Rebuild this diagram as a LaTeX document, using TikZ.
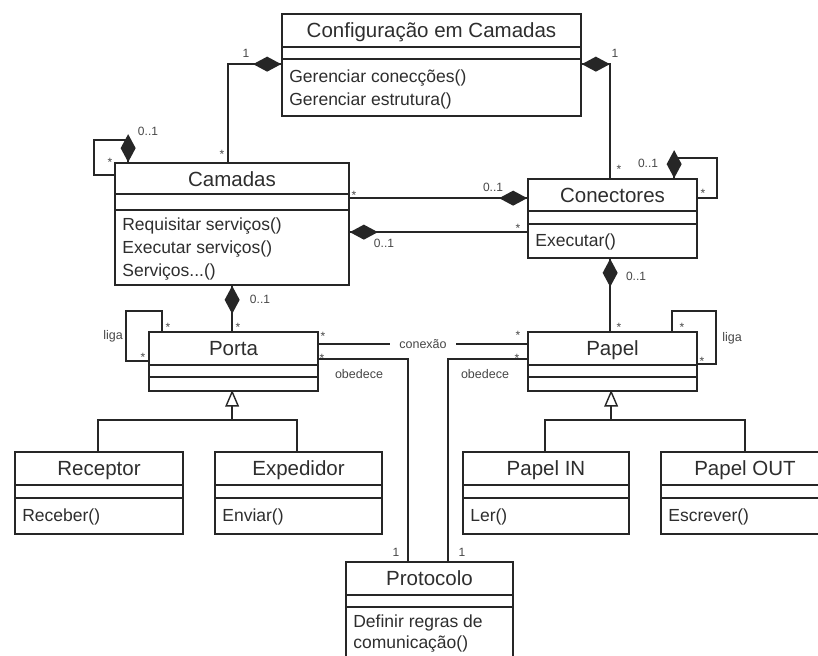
\documentclass[tikz,border=0pt]{standalone}
\usepackage{fontspec}
\setmainfont{Liberation Sans}
\usetikzlibrary{calc}
\definecolor{lc}{HTML}{262626}
\definecolor{tc}{HTML}{2E2E2E}
\definecolor{labc}{HTML}{474747}
\tikzset{
  cls/.style={draw=lc, line width=1.7pt, inner sep=0pt, rectangle},
  sepline/.style={draw=lc, line width=1.7pt},
  ctitle/.style={anchor=base, inner sep=0pt, text=tc, font=\fontsize{20.5}{24}\selectfont},
  meth/.style={anchor=base west, inner sep=0pt, text=tc, font=\fontsize{17.5}{21}\selectfont},
  conn/.style={draw=lc, line width=1.5pt},
  mult/.style={inner sep=0pt, text=labc, font=\fontsize{12}{14}\selectfont},
  star/.style={inner sep=0pt, text=labc, font=\fontsize{12}{14}\selectfont, yshift=-2.5pt},
  role/.style={inner sep=1pt, text=labc, font=\fontsize{12.5}{14}\selectfont},
}
\newcommand\umlclass[8]{%
  \node[cls, minimum width={(#4-#2)*1pt}, minimum height={(#5-#3)*1pt}] (#1) at ({(#2+#4)/2},{(#3+#5)/2}) {};
  \draw[sepline] ($(#1.north west)+(0,#7)$) -- ($(#1.north east)+(0,#7)$);
  \draw[sepline] ($(#1.north west)+(0,#8)$) -- ($(#1.north east)+(0,#8)$);
  \node[ctitle] (#1-t) at ($(#1.north)+(0,24)$) {#6};
}
\newcommand\diamH[2]{\fill[lc] (#1) -- ++({(#2)*14},-7.5) -- ++({(#2)*14},7.5) -- ++({0-(#2)*14},7.5) -- cycle;}
\newcommand\diamV[2]{\fill[lc] (#1) -- ++(-7.5,{(#2)*14}) -- ++(7.5,{(#2)*14}) -- ++(7.5,{0-(#2)*14}) -- cycle;}
\newcommand\gentri[1]{\filldraw[draw=lc, fill=white, line width=1.4pt, line join=miter] (#1) -- ++(-6,14) -- ++(12,0) -- cycle;}
\begin{document}
\begin{tikzpicture}[x=1pt, y=-1pt]
\useasboundingbox (0,0) rectangle (818,655);
\clip (0,0) rectangle (818,655);
\fill[white] (0,0) rectangle (818,655);

% classes
\umlclass{conf}{282}{14}{581}{116}{Configuração em Camadas}{34}{46}
\node[meth] (conf-m1) at ($(conf.north west)+(8,69)$) {Gerenciar conecções()};
\node[meth] (conf-m2) at ($(conf.north west)+(8,92)$) {Gerenciar estrutura()};

\umlclass{cam}{115}{163}{349}{285}{Camadas}{32}{48}
\node[meth] (cam-m1) at ($(cam.north west)+(8,68)$) {Requisitar serviços()};
\node[meth] (cam-m2) at ($(cam.north west)+(8,91)$) {Executar serviços()};
\node[meth] (cam-m3) at ($(cam.north west)+(8,114)$) {Serviços...()};

\umlclass{conec}{528}{179}{697}{258}{Conectores}{33}{46}
\node[meth] (conec-m1) at ($(conec.north west)+(8,68)$) {Executar()};

\umlclass{porta}{149}{332}{318}{391}{Porta}{34}{46}
\umlclass{papel}{528}{332}{697}{391}{Papel}{34}{46}

\umlclass{rec}{15}{452}{183}{534}{Receptor}{34}{47}
\node[meth] (rec-m1) at ($(rec.north west)+(8,70)$) {Receber()};
\umlclass{exp}{215}{452}{382}{534}{Expedidor}{34}{47}
\node[meth] (exp-m1) at ($(exp.north west)+(8,70)$) {Enviar()};
\umlclass{pin}{463}{452}{629}{534}{Papel IN}{34}{47}
\node[meth] (pin-m1) at ($(pin.north west)+(8,70)$) {Ler()};
\umlclass{pout}{661}{452}{829}{534}{Papel OUT}{34}{47}
\node[meth] (pout-m1) at ($(pout.north west)+(8,70)$) {Escrever()};

\umlclass{prot}{346}{562}{513}{660}{Protocolo}{34}{46}
\node[meth] (prot-m1) at ($(prot.north west)+(8,66)$) {Definir regras de};
\node[meth] (prot-m2) at ($(prot.north west)+(8,87)$) {comunicação()};

% composition: configuracao - camadas
\coordinate (c1a) at ($(conf.north west)+(0,51)$);
\coordinate (c1b) at ($(cam.north west)+(114,0)$);
\draw[conn] (c1a) -| (c1b);
\diamH{c1a}{-1}
% configuracao - conectores
\coordinate (c2a) at ($(conf.north east)+(0,51)$);
\coordinate (c2b) at ($(conec.north west)+(83,0)$);
\draw[conn] (c2a) -| (c2b);
\diamH{c2a}{1}
% camadas self
\coordinate (c3a) at ($(cam.north west)+(14,0)$);
\coordinate (c3b) at ($(cam.north west)+(-20,-22)$);
\coordinate (c3c) at ($(cam.north west)+(0,13)$);
\draw[conn] (c3a) |- (c3b) |- (c3c);
\diamV{c3a}{-1}
% conectores self
\coordinate (c4a) at ($(conec.north west)+(147,0)$);
\coordinate (c4b) at ($(conec.north east)+(19,-20)$);
\coordinate (c4c) at ($(conec.north east)+(0,20)$);
\draw[conn] (c4a) |- (c4b) |- (c4c);
\diamV{c4a}{-1}
% camadas - conectores (upper)
\coordinate (c5a) at ($(cam.north east)+(0,36)$);
\coordinate (c5b) at ($(conec.north west)+(0,20)$);
\draw[conn] (c5a) -- (c5b);
\diamH{c5b}{-1}
% camadas - conectores (lower)
\coordinate (c6a) at ($(cam.north east)+(0,70)$);
\coordinate (c6b) at ($(conec.north west)+(0,54)$);
\draw[conn] (c6a) -- (c6b);
\diamH{c6a}{1}
% camadas - porta
\coordinate (c7a) at ($(cam.south west)+(118,0)$);
\coordinate (c7b) at ($(porta.north west)+(84,0)$);
\draw[conn] (c7a) -- (c7b);
\diamV{c7a}{1}
% conectores - papel
\coordinate (c8a) at ($(conec.south west)+(83,0)$);
\coordinate (c8b) at ($(papel.north west)+(83,0)$);
\draw[conn] (c8a) -- (c8b);
\diamV{c8a}{1}
% porta self (liga)
\coordinate (c9a) at ($(porta.north west)+(14,0)$);
\coordinate (c9b) at ($(porta.north west)+(-22,-20)$);
\coordinate (c9c) at ($(porta.north west)+(0,30)$);
\draw[conn] (c9a) |- (c9b) |- (c9c);
% papel self (liga)
\coordinate (c10a) at ($(papel.north west)+(145,0)$);
\coordinate (c10b) at ($(papel.north east)+(18,-20)$);
\coordinate (c10c) at ($(papel.north east)+(0,33)$);
\draw[conn] (c10a) |- (c10b) |- (c10c);
% conexao
\coordinate (c11a) at ($(porta.north east)+(0,13)$);
\coordinate (c11b) at ($(papel.north west)+(0,13)$);
\draw[conn] (c11a) -- node[role, fill=white, inner xsep=9pt] (conexao) {conexão} (c11b);
% obedece
\coordinate (c12a) at ($(porta.north east)+(0,28)$);
\coordinate (c12b) at ($(prot.north west)+(63,0)$);
\draw[conn] (c12a) -| (c12b);
\coordinate (c13a) at ($(papel.north west)+(0,28)$);
\coordinate (c13b) at ($(prot.north west)+(103,0)$);
\draw[conn] (c13a) -| (c13b);
% generalization porta
\coordinate (g1t) at ($(porta.south west)+(84,0)$);
\coordinate (g1b) at ($(g1t)+(0,14)$);
\coordinate (g1j) at ($(g1t)+(0,28)$);
\coordinate (g1r) at ($(rec.north west)+(84,0)$);
\coordinate (g1e) at ($(exp.north west)+(83,0)$);
\draw[conn] (g1b) -- (g1j);
\draw[conn] (g1r) |- (g1j) -| (g1e);
\gentri{g1t}
% generalization papel
\coordinate (g2t) at ($(papel.south west)+(84,0)$);
\coordinate (g2b) at ($(g2t)+(0,14)$);
\coordinate (g2j) at ($(g2t)+(0,28)$);
\coordinate (g2i) at ($(pin.north west)+(83,0)$);
\coordinate (g2o) at ($(pout.north west)+(85,0)$);
\draw[conn] (g2b) -- (g2j);
\draw[conn] (g2i) |- (g2j) -| (g2o);
\gentri{g2t}

% multiplicities
\node[mult] (m1) at (246,53) {1};
\node[mult] (m2) at (615,53) {1};
\node[mult] (m3) at (396,552) {1};
\node[mult] (m4) at (462,552) {1};
\node[mult] (z1) at (148,131) {0..1};
\node[mult] (z2) at (648,163) {0..1};
\node[mult] (z3) at (493,187) {0..1};
\node[mult] (z4) at (384,243) {0..1};
\node[mult] (z5) at (260,299) {0..1};
\node[mult] (z6) at (636,276) {0..1};
\node[star] (s1) at (222,152) {*};
\node[star] (s2) at (619,167) {*};
\node[star] (s3) at (110,160) {*};
\node[star] (s4) at (703,191) {*};
\node[star] (s5) at (354,193) {*};
\node[star] (s6) at (518,226) {*};
\node[star] (s7) at (238,325) {*};
\node[star] (s8) at (619,325) {*};
\node[star] (s9) at (168,325) {*};
\node[star] (s10) at (143,355) {*};
\node[star] (s11) at (682,325) {*};
\node[star] (s12) at (702,359) {*};
\node[star] (s13) at (323,334) {*};
\node[star] (s14) at (518,333) {*};
\node[star] (s15) at (322,356) {*};
\node[star] (s16) at (517,356) {*};
% role labels
\node[role] (liga1) at (113,336) {liga};
\node[role] (liga2) at (732,338) {liga};
\node[role] (ob1) at (359,374) {obedece};
\node[role] (ob2) at (485,374) {obedece};
\end{tikzpicture}
\end{document}
